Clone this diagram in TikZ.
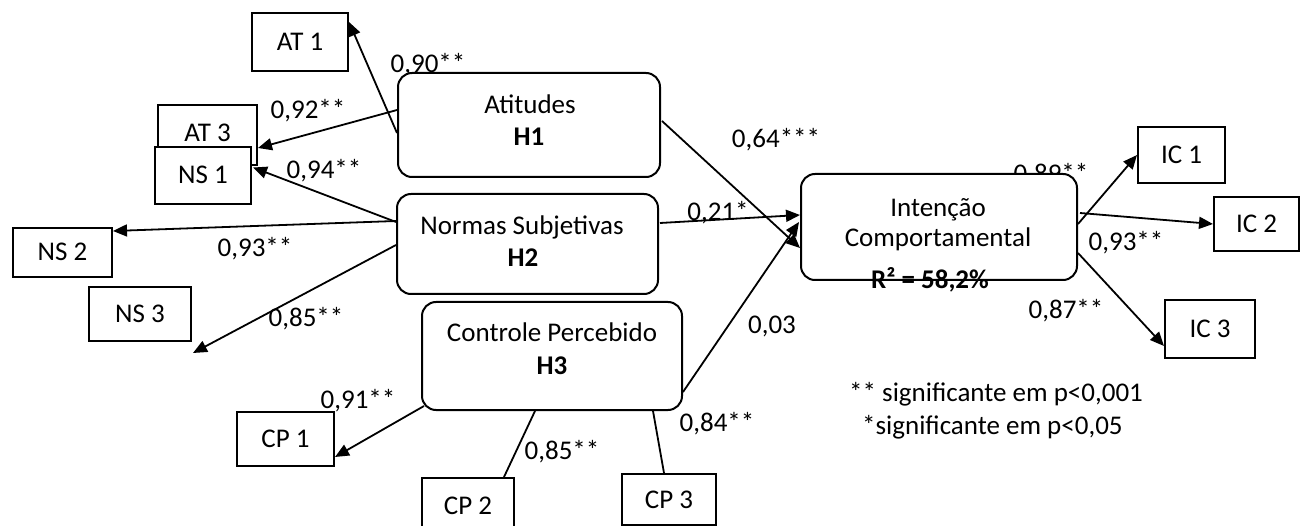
\documentclass[tikz,border=0pt]{standalone}
\usepackage{fontspec}
\setmainfont{Carlito}
\usetikzlibrary{arrows.meta,calc}
\begin{document}
\begin{tikzpicture}[x=1pt,y=-1pt,
  font=\fontsize{27}{32}\selectfont,
  ind/.style={draw,line width=2pt,fill=white,inner sep=0pt,text height=17pt,text depth=0pt},
  lat/.style={draw,line width=2pt,fill=white,rounded corners=14pt,inner sep=0pt},
  txt/.style={inner sep=0pt,text height=17pt,text depth=0pt},
  arr/.style={line width=1.8pt,-{Triangle[length=14pt,width=12pt]}},
  ln/.style={line width=1.8pt}]
\useasboundingbox (0,0) rectangle (1308,526);
\clip (0,0) rectangle (1308,526);
\fill[white] (0,0) rectangle (1308,526);

% labels partly hidden behind boxes
\node[txt] (l90) at (428,64) {0,90**};
\node[txt] (l89) at (1051,174) {0,89**};

% latent constructs
\node[lat,minimum width=262pt,minimum height=104pt] (at) at (529,125) {};
\node[lat,minimum width=261pt,minimum height=100pt] (ns) at (527.5,244) {};
\node[lat,minimum width=260pt,minimum height=108pt] (cp) at (552,356) {};
\node[lat,minimum width=276pt,minimum height=106pt] (ic) at (939,227) {};

\node[txt] (att) at (530,105) {Atitudes};
\node[txt] (h1) at (529,137) {\textbf{H1}};
\node[txt] (nst) at (522,226) {Normas Subjetivas};
\node[txt] (h2) at (523,258) {\textbf{H2}};
\node[txt] (cpt) at (552,333) {Controle Percebido};
\node[txt] (h3) at (552,366) {\textbf{H3}};
\node[txt] (ict1) at (938,208) {Intenção};
\node[txt] (ict2) at (938,238) {Comportamental};
\node[txt] (r2) at (930,280) {\textbf{R² = 58,2\%}};

% indicators
\node[ind,minimum width=96pt,minimum height=58pt] (AT1) at (300,42) {AT 1};
\node[ind,minimum width=99pt,minimum height=60pt,text depth=4pt] (AT3) at (207.5,135) {AT 3};
\node[ind,minimum width=96pt,minimum height=57pt] (NS1) at (203,175.5) {NS 1};
\node[ind,minimum width=99pt,minimum height=49pt] (NS2) at (62.5,252.5) {NS 2};
\node[ind,minimum width=102pt,minimum height=54pt] (NS3) at (140,314) {NS 3};
\node[ind,minimum width=97pt,minimum height=54pt] (CP1) at (285.5,439) {CP 1};
\node[ind,minimum width=92pt,minimum height=56pt] (CP2) at (468,506) {CP 2};
\node[ind,minimum width=94pt,minimum height=51pt] (CP3) at (669,499.5) {CP 3};
\node[ind,minimum width=87pt,minimum height=56pt] (IC1) at (1181.5,155) {IC 1};
\node[ind,minimum width=85pt,minimum height=54pt] (IC2) at (1256.5,224) {IC 2};
\node[ind,minimum width=90pt,minimum height=58pt] (IC3) at (1210,329) {IC 3};

\coordinate (ns3end) at (193,353);

% connectors
\draw[arr] ($(at.west)+(0,8)$) -- ($(AT1.north east)+(0,10)$);
\draw[arr] ($(at.west)+(0,-15)$) -- ($(AT3.east)+(0,13)$);
\draw[arr] ($(ns.west)+(0,-22)$) -- ($(NS1.east)+(1,-8)$);
\draw[arr] ($(ns.west)+(0,-23)$) -- ($(NS2.north east)+(0,4)$);
\draw[arr] ($(ns.west)+(0,1)$) -- (ns3end);
\draw[arr] ($(at.east)+(1,-4)$) -- ($(ic.west)+(0,21)$);
\draw[arr] ($(ns.east)+(1,-21)$) -- ($(ic.west)+(0,-12)$);
\draw[arr] ($(cp.east)+(0,36)$) -- ($(ic.west)+(-1,-5)$);
\draw[arr] ($(ic.east)+(0,-3)$) -- (IC1.west);
\draw[arr] ($(ic.east)+(2,-14)$) -- (IC2.west);
\draw[arr] ($(ic.east)+(0,26)$) -- ($(IC3.west)+(0,17)$);
\draw[arr] ($(cp.south west)+(3,-5)$) -- ($(CP1.south east)+(0,-10)$);
\draw[ln] ($(cp.south)+(-17,0)$) -- ($(CP2.north)+(36,0)$);
\draw[ln] ($(cp.south)+(101,0)$) -- ($(CP3.north)+(-5,0)$);

% loadings
\node[txt] (l92) at (308,110) {0,92**};
\node[txt] (l94) at (324,170) {0,94**};
\node[txt] (l93a) at (255,248) {0,93**};
\node[txt] (l85a) at (306,318) {0,85**};
\node[txt] (l91) at (358,400) {0,91**};
\node[txt] (l85b) at (562,451) {0,85**};
\node[txt] (l84) at (717,423) {0,84**};
\node[txt] (l03) at (772,325) {0,03};
\node[txt] (l64) at (776,139) {0,64***};
\node[txt] (l21) at (718,212) {0,21*};
\node[txt] (l93b) at (1126,242) {0,93**};
\node[txt] (l87) at (1066,310) {0,87**};

% legend
\node[txt,anchor=west] (leg1) at (849,393) {** significante em p<0,001};
\node[txt,anchor=west] (leg2) at (862,426) {*significante em p<0,05};
\end{tikzpicture}
\end{document}
